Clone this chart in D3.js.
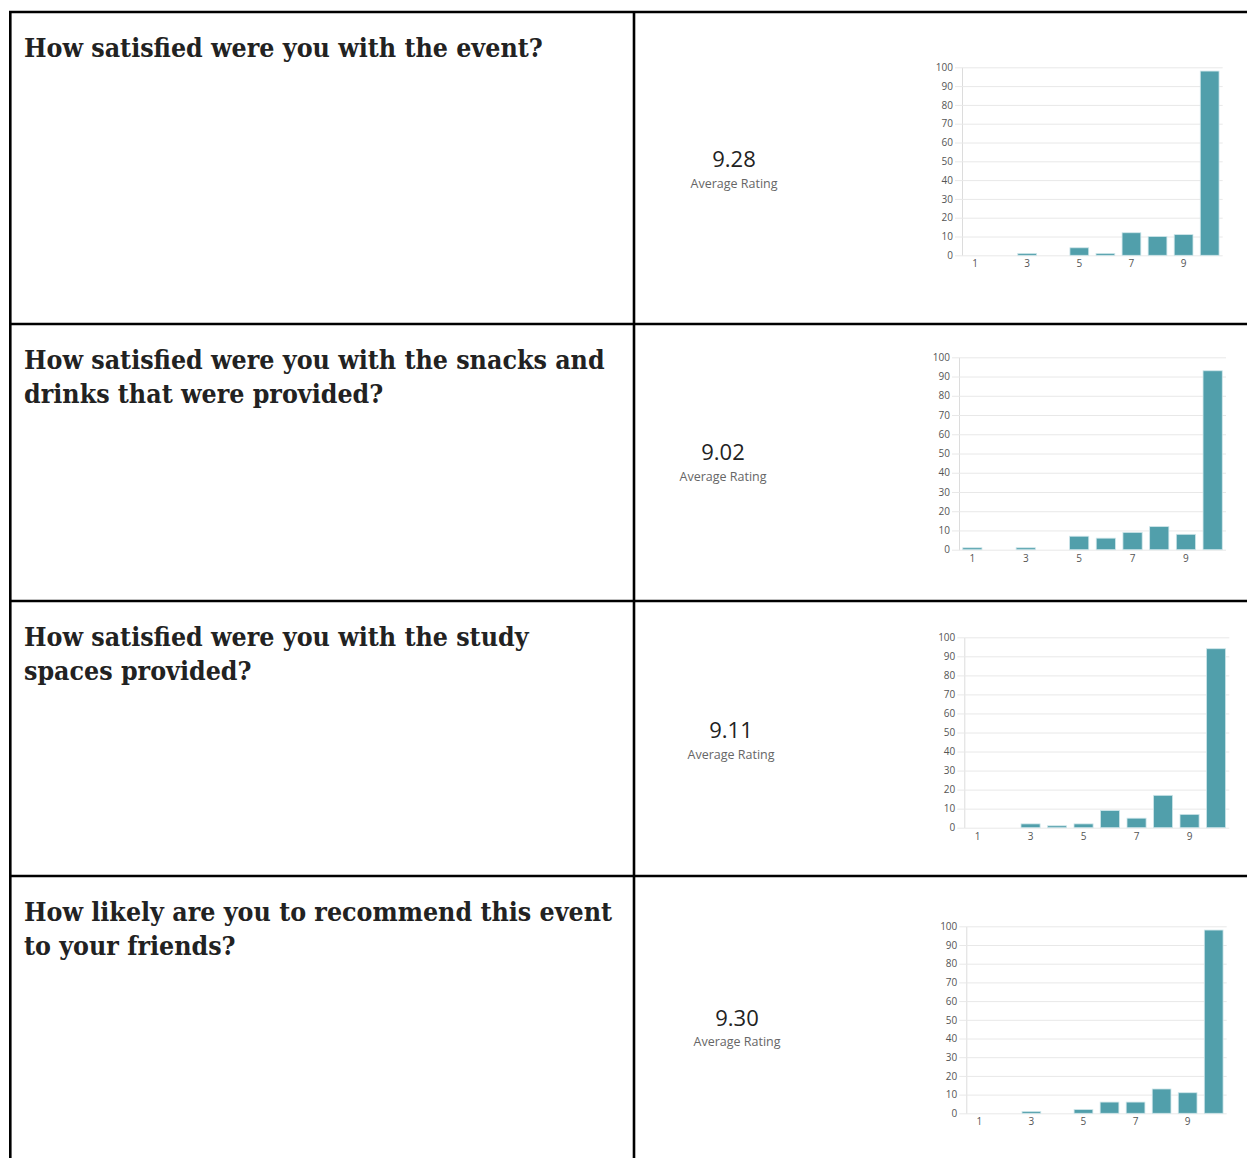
<!DOCTYPE html>
<html>
<head>
<meta charset="utf-8">
<script src="https://cdn.jsdelivr.net/npm/d3@7/dist/d3.min.js"></script>
<style>
  html, body { margin: 0; padding: 0; background: #fff; }
  svg { display: block; }
</style>
</head>
<body>
<svg id="survey" width="1247" height="1158"></svg>
<script>
// Rating scale (1–10) and the response counts for each survey question
const ratings = [1, 2, 3, 4, 5, 6, 7, 8, 9, 10];
const eventCounts     = [0, 0, 1, 0, 4, 1, 12, 10, 11, 98];
const snacksCounts    = [1, 0, 1, 0, 7, 6, 9, 12, 8, 93];
const studyCounts     = [0, 0, 2, 1, 2, 9, 5, 17, 7, 94];
const recommendCounts = [0, 0, 1, 0, 2, 6, 6, 13, 11, 98];

const questionLines = [
  ["How satisfied were you with the event?"],
  ["How satisfied were you with the snacks and", "drinks that were provided?"],
  ["How satisfied were you with the study", "spaces provided?"],
  ["How likely are you to recommend this event", "to your friends?"]
];
const yTickValues = [0, 10, 20, 30, 40, 50, 60, 70, 80, 90, 100];
const xTickLabels = [1, 3, 5, 7, 9];
const averageLabel = "Average Rating";

const countSeries = [eventCounts, snacksCounts, studyCounts, recommendCounts];

// Page layout: table rows and per-row chart boxes / summary positions
const rowTops = [12, 324, 601, 876];
const tableLeft = 10.3, tableDivider = 634, tableRight = 1260, tableBottom = 1170;
const chartBoxes = [
  { x0: 962,   x1: 1222.7, yTop: 67.3,  yBot: 255.3 },
  { x0: 959,   x1: 1226,   yTop: 357.3, yBot: 549.7 },
  { x0: 964.3, x1: 1229.3, yTop: 637.3, yBot: 827.7 },
  { x0: 966.3, x1: 1226.7, yTop: 926.3, yBot: 1113.3 }
];
const summaryPos = [
  { cx: 734, numY: 166.5,  labY: 188 },
  { cx: 723, numY: 459.5,  labY: 481 },
  { cx: 731, numY: 737.5,  labY: 759 },
  { cx: 737, numY: 1025.5, labY: 1046 }
];

const svg = d3.select("#survey");
const barFill = "#519fab";
const fmt = d3.format(".2f");
const uiFont = "'Open Sans', 'Noto Sans', sans-serif";

// Table borders
const borders = svg.append("g").attr("stroke", "#000").attr("stroke-width", 2.6);
borders.append("line").attr("x1", tableLeft).attr("x2", tableLeft).attr("y1", rowTops[0]).attr("y2", tableBottom);
borders.append("line").attr("x1", tableDivider).attr("x2", tableDivider).attr("y1", rowTops[0]).attr("y2", tableBottom);
rowTops.forEach(y => {
  borders.append("line").attr("x1", tableLeft - 1.3).attr("x2", tableRight).attr("y1", y).attr("y2", y);
});

// Question titles: size the serif font so the first line spans its cell
const titleFont = "'DejaVu Serif Condensed', 'DejaVu Serif', serif";
const probe = svg.append("text")
  .attr("font-family", titleFont).attr("font-weight", "bold").attr("font-size", 100)
  .text(questionLines[0][0]);
const probeW = probe.node().getComputedTextLength();
probe.remove();
const titleSize = 100 * 519 / probeW;

questionLines.forEach((lines, i) => {
  const t = svg.append("text")
    .attr("font-family", titleFont)
    .attr("font-weight", "bold")
    .attr("font-size", titleSize)
    .attr("fill", "#222");
  lines.forEach((ln, j) => {
    t.append("tspan").attr("x", 24).attr("y", rowTops[i] + 45 + j * 34).text(ln);
  });
});

// Average rating summaries, computed from the counts
countSeries.forEach((counts, i) => {
  const total = d3.sum(counts);
  const avg = d3.sum(counts, (c, k) => c * ratings[k]) / total;
  const p = summaryPos[i];
  svg.append("text")
    .attr("x", p.cx).attr("y", p.numY)
    .attr("text-anchor", "middle")
    .attr("font-family", uiFont)
    .attr("font-size", 22)
    .attr("fill", "#222")
    .text(fmt(avg));
  svg.append("text")
    .attr("x", p.cx).attr("y", p.labY)
    .attr("text-anchor", "middle")
    .attr("font-family", uiFont)
    .attr("font-size", 12.5)
    .attr("fill", "#666")
    .text(averageLabel);
});

// Rating distribution bar charts
countSeries.forEach((counts, i) => {
  const b = chartBoxes[i];
  const g = svg.append("g");
  const x = d3.scaleBand().domain(ratings).range([b.x0, b.x1]).paddingInner(0.28).paddingOuter(0.14);
  const y = d3.scaleLinear().domain([0, 100]).range([b.yBot, b.yTop]);

  // horizontal grid with left tick labels
  const yAxis = d3.axisLeft(y)
    .tickValues(yTickValues)
    .tickSizeInner(-(b.x1 - b.x0))
    .tickSizeOuter(0)
    .tickPadding(9);
  const ya = g.append("g").attr("transform", `translate(${b.x0},0)`).call(yAxis);
  ya.select(".domain").attr("stroke", "#dcdcdc");
  ya.selectAll(".tick line").attr("stroke", "#e8e8e8");
  ya.selectAll(".tick").append("line")
    .attr("x1", -7).attr("x2", 0).attr("stroke", "#e8e8e8");
  ya.selectAll(".tick text")
    .attr("font-family", uiFont)
    .attr("font-size", 10).attr("fill", "#555");

  // category labels (odd ratings only)
  const xAxis = d3.axisBottom(x).tickValues(xTickLabels).tickSize(0).tickPadding(5);
  const xa = g.append("g").attr("transform", `translate(0,${b.yBot})`).call(xAxis);
  xa.select(".domain").remove();
  xa.selectAll(".tick text")
    .attr("font-family", uiFont)
    .attr("font-size", 10).attr("fill", "#555");

  g.append("g").selectAll("rect")
    .data(counts.map((c, k) => ({ r: ratings[k], c })))
    .join("rect")
    .attr("x", d => x(d.r))
    .attr("width", x.bandwidth())
    .attr("y", d => y(d.c))
    .attr("height", d => y(0) - y(d.c))
    .attr("fill", barFill)
    .attr("stroke", "#cfe6ea")
    .attr("stroke-width", d => d.c > 0 ? 0.8 : 0);
});
</script>
</body>
</html>
